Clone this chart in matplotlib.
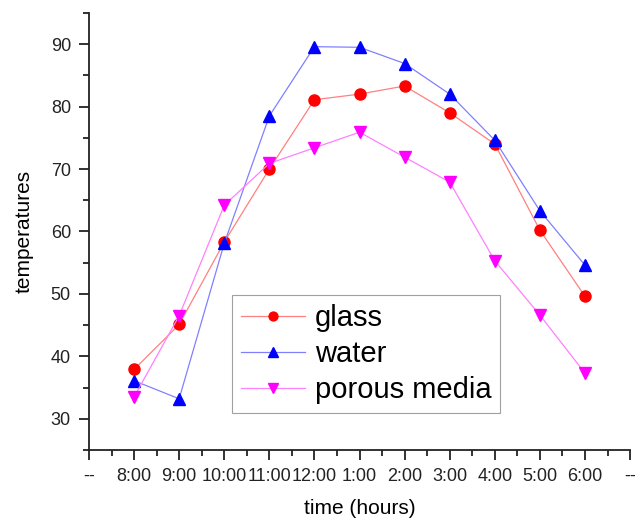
import numpy as np
import matplotlib.pyplot as plt
from matplotlib.ticker import MultipleLocator

plt.rcParams['font.family'] = ['Liberation Sans', 'DejaVu Sans']

# time of day labels, padded with "--" at both ends like the original
hours = ['8:00', '9:00', '10:00', '11:00', '12:00', '1:00', '2:00', '3:00', '4:00', '5:00', '6:00']
tickLabels = ['--'] + hours + ['--']

glass = [37.9, 45.1, 58.3, 70.0, 81.1, 82.0, 83.3, 79.0, 74.0, 60.2, 49.6]
water = [36.1, 33.2, 58.1, 78.5, 89.6, 89.5, 86.9, 82.0, 74.6, 63.3, 54.6]
porous = [33.5, 46.5, 64.2, 70.9, 73.4, 75.9, 71.9, 67.9, 55.3, 46.6, 37.3]

x = np.arange(1, len(hours) + 1)

fig = plt.figure(figsize=(6.41, 5.18), dpi=100)
ax = fig.add_axes([0.1388, 0.1313, 0.983 - 0.1388, 0.975 - 0.1313])

ax.plot(x, glass, color='#ff8080', linewidth=0.9, marker='o', markersize=8,
        markerfacecolor='red', markeredgecolor='red', label='glass')
ax.plot(x, water, color='#8080ff', linewidth=0.9, marker='^', markersize=9,
        markerfacecolor='blue', markeredgecolor='blue', label='water')
ax.plot(x, porous, color='#ff80ff', linewidth=0.9, marker='v', markersize=9,
        markerfacecolor='magenta', markeredgecolor='magenta', label='porous media')

ax.set_xlim(0, 12)
ax.set_ylim(25, 95)
ax.set_xticks(np.arange(0, 13))
ax.set_xticklabels(tickLabels)
ax.xaxis.set_minor_locator(MultipleLocator(0.5))
ax.set_yticks(np.arange(30, 91, 10))
ax.yaxis.set_minor_locator(MultipleLocator(5))

for s in ['top', 'right']:
    ax.spines[s].set_visible(False)
for s in ['left', 'bottom']:
    ax.spines[s].set_linewidth(1.3)
    ax.spines[s].set_color('#222222')

ax.tick_params(which='major', direction='out', length=7, width=1.3, labelsize=13,
               colors='#222222', pad=6)
ax.tick_params(which='minor', direction='out', length=4, width=1.3, colors='#222222')

ax.set_xlabel('time (hours)', fontsize=15, labelpad=10)
ax.set_ylabel('temperatures', fontsize=15, labelpad=12)

leg = ax.legend(loc='lower left', bbox_to_anchor=(0.264, 0.085), fontsize=21,
                frameon=True, fancybox=False, handlelength=2.2, borderpad=0.3,
                labelspacing=0.28, handletextpad=0.35, borderaxespad=0,
                markerscale=0.8)
leg.get_frame().set_edgecolor('#888888')
leg.get_frame().set_linewidth(0.8)

fig.savefig('out.png', dpi=100)
